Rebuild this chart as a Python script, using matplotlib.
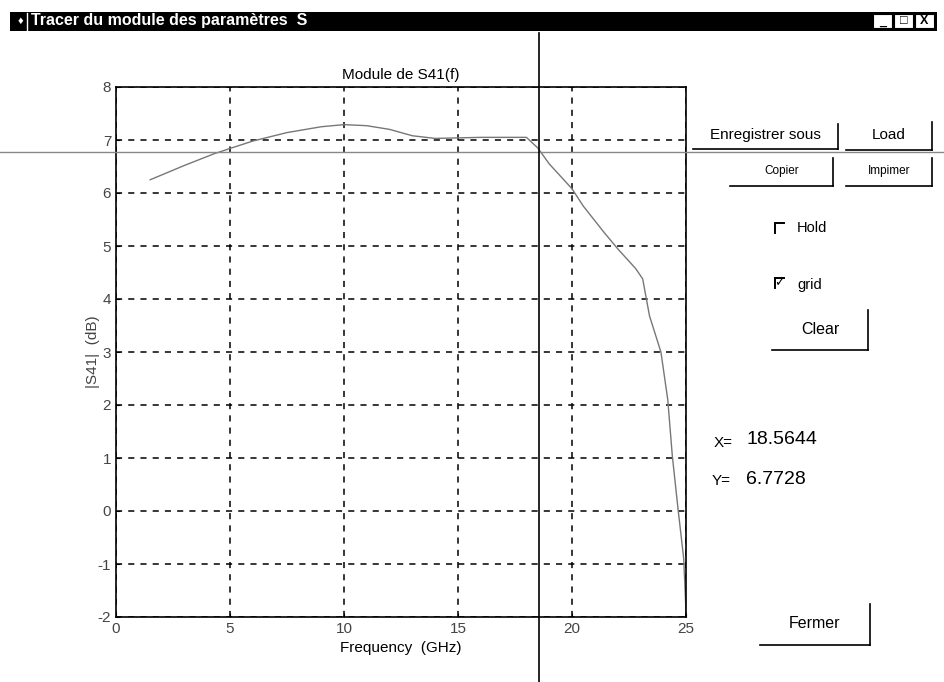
import numpy as np
import matplotlib
matplotlib.use("Agg")
import matplotlib.pyplot as plt
import matplotlib.transforms as mtransforms
from matplotlib.lines import Line2D
from matplotlib.patches import Rectangle

plt.rcParams['font.family'] = ['Liberation Sans', 'DejaVu Sans']
plt.rcParams['axes.unicode_minus'] = False

# data
freq = [1.5, 3, 4.3, 5, 6, 7.5, 9, 10, 11, 12, 13, 14, 15, 16, 17, 18,
        18.5, 19, 20, 20.5, 21.4, 22, 22.8, 23.1, 23.4, 23.9, 24.2, 24.4,
        24.65, 24.9, 25]
s41_db = [6.25, 6.52, 6.74, 6.84, 6.98, 7.14, 7.25, 7.29, 7.27, 7.2, 7.08,
          7.03, 7.04, 7.05, 7.05, 7.05, 6.85, 6.55, 6.08, 5.75, 5.26, 4.95,
          4.57, 4.38, 3.68, 3.0, 2.1, 1.04, 0.04, -0.9, -1.9]
x_ticks = [0, 5, 10, 15, 20, 25]
y_ticks = [-2, -1, 0, 1, 2, 3, 4, 5, 6, 7, 8]
cursor_x = 18.5644
cursor_y = 6.7728

W, H = 945, 682
fig = plt.figure(figsize=(W / 100, H / 100), dpi=100)
fig.patch.set_facecolor('white')


def fx(x):
    return x / W


def fy(y):
    return 1 - y / H


def line_px(x0, y0, x1, y1, lw=1.2, color='black'):
    fig.add_artist(Line2D([fx(x0), fx(x1)], [fy(y0), fy(y1)],
                          transform=fig.transFigure, color=color, lw=lw))


def text_px(x, y, s, **kw):
    kw.setdefault('ha', 'center')
    kw.setdefault('va', 'center')
    fig.text(fx(x), fy(y), s, **kw)


# plot area
ax = fig.add_axes([fx(116), fy(617), fx(686) - fx(116), fy(87) - fy(617)])
ax.plot(freq, s41_db, color='#777777', lw=1.0)
ax.set_xlim(0, 25)
ax.set_ylim(-2, 8)
ax.set_xticks(x_ticks)
ax.set_yticks(y_ticks)
ax.grid(True, color='black', linestyle=(0, (4, 4)), lw=1.1)
ax.tick_params(direction='in', length=3, labelsize=11, labelcolor='#444444',
               top=False, right=False)
for sp in ax.spines.values():
    sp.set_linewidth(1.2)
    sp.set_color('black')
ax.set_title('Module de S41(f)', fontsize=11, pad=6)
ax.set_xlabel('Frequency  (GHz)', fontsize=11, labelpad=4)
ax.set_ylabel('|S41|  (dB)', fontsize=11, color='#444444', labelpad=-2)

# cursor crosshair spanning the window
htrans = mtransforms.blended_transform_factory(fig.transFigure, ax.transData)
fig.add_artist(Line2D([0, 1], [cursor_y, cursor_y], transform=htrans,
                      color='#888888', lw=1.0))
vtrans = mtransforms.blended_transform_factory(ax.transData, fig.transFigure)
fig.add_artist(Line2D([cursor_x, cursor_x], [0, fy(33)], transform=vtrans,
                      color='black', lw=1.2))

# window title bar
fig.add_artist(Rectangle((fx(10), fy(31)), fx(937) - fx(10), fy(12) - fy(31),
                         transform=fig.transFigure, facecolor='black',
                         edgecolor='none'))
text_px(18, 21, '\u2666', color='white', fontsize=8, ha='left')
line_px(27, 13, 27, 30, lw=1, color='white')
text_px(31, 21, 'Tracer du module des paramètres  S', color='white',
        fontsize=11.5, fontweight='bold', ha='left')
for bx, sym in [(873, '_'), (894, '\u25a1'), (915, 'X')]:
    fig.add_artist(Rectangle((fx(bx), fy(28)), fx(19), fy(14) - fy(28),
                             transform=fig.transFigure, facecolor='white',
                             edgecolor='black', lw=0.8))
    text_px(bx + 9.5, 21.5, sym, fontsize=9, fontweight='bold')


# buttons with their shadow edges
def button(x0, x1, y0, y1, label, size=11, **kw):
    line_px(x0, y1, x1, y1)
    line_px(x1, y0, x1, y1)
    text_px((x0 + x1) / 2, (y0 + y1) / 2 - 1, label, fontsize=size, **kw)


button(693, 838, 124, 149, 'Enregistrer sous', size=11)
button(846, 932, 122, 150, 'Load', size=11)
button(730, 833, 158, 186, 'Copier', size=8.5)
button(846, 932, 158, 186, 'Impimer', size=8.5)
button(772, 868, 310, 350, 'Clear', size=11.5)
button(760, 870, 604, 645, 'Fermer', size=11.5)

# check boxes
line_px(775, 223, 784, 223, lw=1.4)
line_px(775, 223, 775, 233, lw=1.4)
text_px(797, 228, 'Hold', fontsize=10.5, ha='left')
line_px(775, 278, 784, 278, lw=1.4)
line_px(775, 278, 775, 288, lw=1.4)
text_px(774, 283, '\u2713', fontsize=9, ha='left', family='DejaVu Sans')
text_px(797, 285, 'grid', fontsize=10.5, ha='left')

# cursor readout
text_px(714, 443, 'X=', fontsize=11, ha='left')
text_px(747, 439, '18.5644', fontsize=14, ha='left')
text_px(712, 481, 'Y=', fontsize=11, ha='left')
text_px(746, 479, '6.7728', fontsize=14, ha='left')

fig.savefig('out.png', dpi=100)
